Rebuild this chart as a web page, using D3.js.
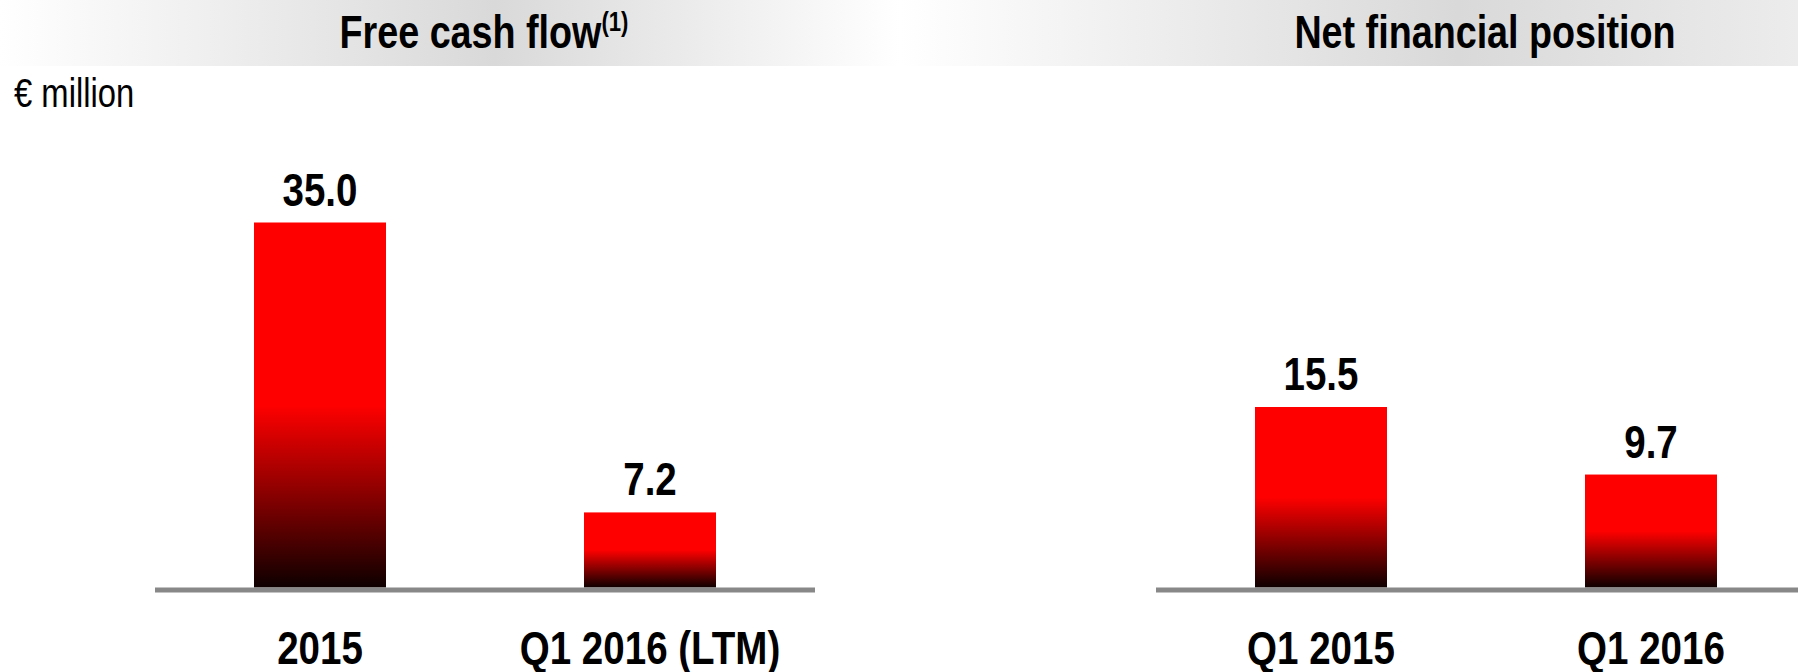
<!DOCTYPE html>
<html lang="en">
  <head>
    <meta charset="utf-8" />
    <title>Free cash flow and Net financial position</title>
    <script src="https://d3js.org/d3.v7.min.js"></script>
    <style>
      body { margin: 0; background: #fff; }
      svg { display: block; }
      text { font-family: "Liberation Sans Narrow", "Liberation Sans", Arial, sans-serif; }
      .bold { font-weight: bold; }
    </style>
  </head>
  <body>
    <div id="content"></div>
    <script>
      // values (€ million)
      const fcfCategories = ["2015", "Q1 2016 (LTM)"];
      const fcfValues = [35.0, 7.2];
      const nfpCategories = ["Q1 2015", "Q1 2016"];
      const nfpValues = [15.5, 9.7];

      const width = 1798;
      const height = 672;
      const baseline = 587.5;
      const squeeze = 0.82; // no narrow font installed, so squash the glyphs

      const svg = d3
        .select("#content")
        .append("svg")
        .attr("width", width)
        .attr("height", height)
        .attr("viewBox", [0, 0, width, height]);

      // move x/y into a transform so the text can be condensed horizontally
      const narrow = (sel) =>
        sel.each(function () {
          const t = d3.select(this);
          const x = +t.attr("x") || 0;
          const y = +t.attr("y") || 0;
          t.attr("x", 0)
            .attr("y", 0)
            .attr("transform", `translate(${x},${y}) scale(${squeeze},1)`);
        });

      const defs = svg.append("defs");

      // red to black fill used by every bar
      const barGrad = defs
        .append("linearGradient")
        .attr("id", "barGrad")
        .attr("x1", 0).attr("y1", 0)
        .attr("x2", 0).attr("y2", 1);
      barGrad.append("stop").attr("offset", "0%").attr("stop-color", "#ff0000");
      barGrad.append("stop").attr("offset", "50%").attr("stop-color", "#ff0000");
      barGrad.append("stop").attr("offset", "100%").attr("stop-color", "#0e0000");

      const headGrad = (id, stops) => {
        const g = defs.append("linearGradient").attr("id", id);
        stops.forEach(([o, c]) =>
          g.append("stop").attr("offset", o).attr("stop-color", c)
        );
      };
      headGrad("headLeft", [["0%", "#ffffff"], ["55%", "#d9d9d9"], ["100%", "#ffffff"]]);
      headGrad("headRight", [["0%", "#ffffff"], ["62%", "#d9d9d9"], ["100%", "#ececec"]]);

      const panel = (opts) => {
        const g = svg.append("g");

        // header band + title
        g.append("rect")
          .attr("x", opts.head[0])
          .attr("y", 0)
          .attr("width", opts.head[1] - opts.head[0])
          .attr("height", 66)
          .attr("fill", `url(#${opts.headFill})`);

        const title = g
          .append("text")
          .attr("class", "bold")
          .attr("x", opts.titleX)
          .attr("y", 48)
          .attr("text-anchor", "middle")
          .attr("font-size", 46)
          .text(opts.title);
        if (opts.sup) {
          title
            .append("tspan")
            .attr("font-size", 27)
            .attr("dy", -17)
            .text(opts.sup);
        }
        narrow(title);

        const x = d3
          .scaleBand()
          .domain(opts.categories)
          .range(opts.range)
          .paddingInner(0.6)
          .paddingOuter(0.3);

        const y = d3
          .scaleLinear()
          .domain([0, opts.max])
          .range([baseline, opts.top]);

        const data = opts.categories.map((c, i) => ({ cat: c, value: opts.values[i] }));

        g.append("g")
          .selectAll("rect")
          .data(data)
          .join("rect")
          .attr("x", (d) => x(d.cat))
          .attr("y", (d) => y(d.value))
          .attr("width", x.bandwidth())
          .attr("height", (d) => y(0) - y(d.value))
          .attr("fill", "url(#barGrad)");

        g.append("g")
          .selectAll("text")
          .data(data)
          .join("text")
          .attr("class", "bold")
          .attr("x", (d) => x(d.cat) + x.bandwidth() / 2)
          .attr("y", (d) => y(d.value) - 17)
          .attr("text-anchor", "middle")
          .attr("font-size", 47)
          .text((d) => d.value.toFixed(1))
          .call(narrow);

        // grey base line with category labels underneath
        const axis = g
          .append("g")
          .attr("transform", `translate(0,${baseline})`)
          .call(d3.axisBottom(x).tickSize(0).tickPadding(0));
        axis.select(".domain").remove();
        axis
          .append("line")
          .attr("x1", opts.line[0])
          .attr("x2", opts.line[1])
          .attr("y1", 2.5)
          .attr("y2", 2.5)
          .attr("stroke", "#888888")
          .attr("stroke-width", 5);
        axis
          .selectAll(".tick text")
          .attr("class", "bold")
          .attr("y", 76)
          .attr("dy", 0)
          .attr("font-size", 47)
          .attr("font-family", null)
          .attr("fill", "#000")
          .call(narrow);
      };

      panel({
        title: "Free cash flow",
        sup: "(1)",
        titleX: 484,
        head: [0, 900],
        headFill: "headLeft",
        categories: fcfCategories,
        values: fcfValues,
        range: [155, 815],
        line: [155, 815],
        max: 35,
        top: 222.5,
      });

      panel({
        title: "Net financial position",
        titleX: 1485,
        head: [900, 1798],
        headFill: "headRight",
        categories: nfpCategories,
        values: nfpValues,
        range: [1156, 1816],
        line: [1156, 1798],
        max: 15.5,
        top: 407,
      });

      svg
        .append("text")
        .attr("x", 14)
        .attr("y", 107)
        .attr("font-size", 40)
        .text("€ million")
        .call(narrow);
    </script>
  </body>
</html>
